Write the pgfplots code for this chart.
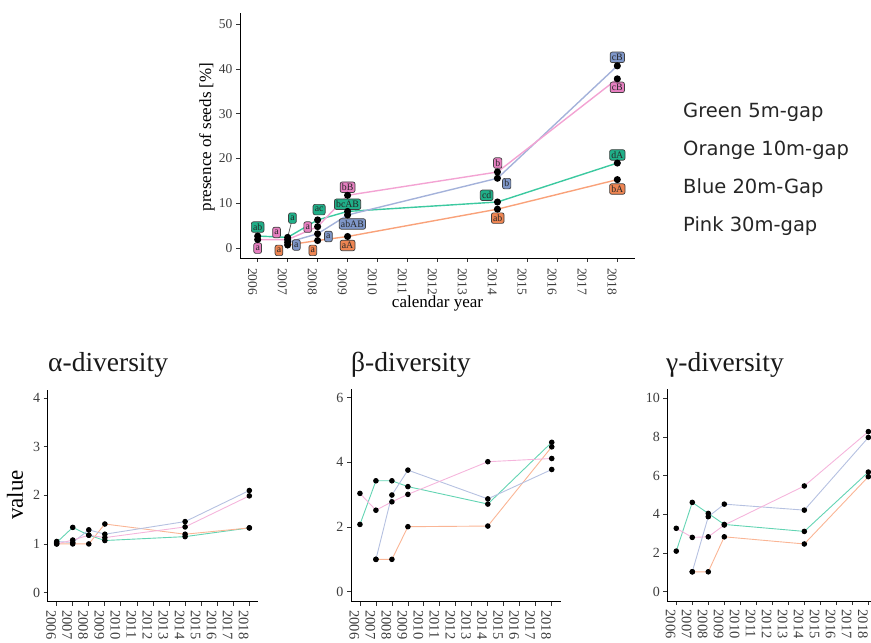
\documentclass[border=0pt]{standalone}
\usepackage{pgfplots}
\pgfplotsset{compat=1.18}
\usepackage{fontspec}
\setmainfont{Liberation Serif}
\newfontfamily\legfont{DejaVu Sans}
\definecolor{gL}{HTML}{3CC9A0}
\definecolor{oL}{HTML}{F9A27A}
\definecolor{bL}{HTML}{A4B2DA}
\definecolor{pL}{HTML}{F3A3D3}
\definecolor{gF}{HTML}{1FAF88}
\definecolor{oF}{HTML}{EE8552}
\definecolor{bF}{HTML}{7F97C9}
\definecolor{pF}{HTML}{E67FC0}
\definecolor{tickgray}{HTML}{3D3D3D}
\tikzset{lab/.style={draw=black!75, line width=0.7pt, rounded corners=2pt, inner sep=1.7pt, font=\fontsize{9.8}{9.8}\selectfont, text=black!85, minimum height=10.5pt}}
\pgfplotsset{
  myax/.style={
    scale only axis,
    axis x line*=bottom, axis y line*=left,
    axis line style={black, line width=0.9pt, -},
    tick style={black!80, line width=0.8pt},
    major tick length=4pt, tick align=outside,
    minor tick num=0,
    /pgf/number format/assume math mode=true,
    /pgf/number format/1000 sep={},
    ticklabel style={text=tickgray},
    clip=false,
  }
}
\begin{document}
\begin{tikzpicture}[x=1pt,y=1pt]
% ---------------- top chart ----------------
\begin{axis}[myax, at={(240pt,385pt)}, anchor=south west, width=395pt, height=245pt,
  xmin=2005.41, xmax=2018.59, ymin=-2.2, ymax=52.5,
  xtick={2006,2007,2008,2009,2010,2011,2012,2013,2014,2015,2016,2017,2018},
  ytick={0,10,20,30,40,50},
  x tick label style={rotate=-90, anchor=north west, inner sep=0.5pt, xshift=2.5pt, font=\fontsize{13.5}{13.5}\selectfont},
  xticklabel shift=3pt,
  y tick label style={font=\fontsize{13.5}{13.5}\selectfont},
  mark size=2.8pt]
\addplot[gL, line width=1.4pt, mark=*, mark options={draw=black, fill=black}] coordinates {(2006,2.7)(2007,2.4)(2008,6.3)(2009,8.2)(2014,10.3)(2018,19.0)};
\addplot[oL, line width=1.4pt, mark=*, mark options={draw=black, fill=black}] coordinates {(2007,0.7)(2008,1.7)(2009,2.6)(2014,8.7)(2018,15.3)};
\addplot[bL, line width=1.4pt, mark=*, mark options={draw=black, fill=black}] coordinates {(2007,1.3)(2008,3.2)(2009,7.4)(2014,15.6)(2018,40.7)};
\addplot[pL, line width=1.4pt, mark=*, mark options={draw=black, fill=black}] coordinates {(2006,1.9)(2007,1.9)(2008,4.8)(2009,11.8)(2014,17.0)(2018,37.8)};
\draw[black!70, line width=0.7pt] (axis cs:2007,2.4) -- (axis cs:2007.16,6.7);
\node[lab, fill=gF] at (axis cs:2006,4.7) {ab};
\node[lab, fill=pF] at (axis cs:2006,0.0) {a};
\node[lab, fill=pF] at (axis cs:2006.63,3.5) {a};
\node[lab, fill=gF] at (axis cs:2007.16,6.7) {a};
\node[lab, fill=oF] at (axis cs:2006.71,-0.5) {a};
\node[lab, fill=bF] at (axis cs:2007.29,0.7) {a};
\node[lab, fill=gF] at (axis cs:2008.05,8.6) {ac};
\node[lab, fill=pF] at (axis cs:2007.67,4.7) {a};
\node[lab, fill=bF] at (axis cs:2008.36,2.6) {a};
\node[lab, fill=oF] at (axis cs:2007.84,-0.5) {a};
\node[lab, fill=pF] at (axis cs:2009,13.6) {bB};
\node[lab, fill=gF] at (axis cs:2009,9.8) {bcAB};
\node[lab, fill=bF] at (axis cs:2009.16,5.4) {abAB};
\node[lab, fill=oF] at (axis cs:2009,0.6) {aA};
\node[lab, fill=pF] at (axis cs:2014.01,19.0) {b};
\node[lab, fill=bF] at (axis cs:2014.31,14.4) {b};
\node[lab, fill=gF] at (axis cs:2013.64,11.8) {cd};
\node[lab, fill=oF] at (axis cs:2014.01,6.7) {ab};
\node[lab, fill=bF] at (axis cs:2018,42.6) {cB};
\node[lab, fill=pF] at (axis cs:2018,35.9) {cB};
\node[lab, fill=gF] at (axis cs:2018,20.8) {dA};
\node[lab, fill=oF] at (axis cs:2018,13.2) {bA};
\end{axis}
\node[font=\fontsize{17}{17}\selectfont] at (437.5,340) {calendar year};
\node[font=\fontsize{17}{17}\selectfont, rotate=90] at (207,506) {presence of seeds [\%]};
% legend text
\begin{scope}[every node/.style={anchor=base west, font=\legfont\fontsize{19.5}{19.5}\selectfont, text=black!85, inner sep=0pt}]
\node at (683,525) {Green 5m-gap};
\node at (683,487) {Orange 10m-gap};
\node at (683,449) {Blue 20m-Gap};
\node at (683,411) {Pink 30m-gap};
\end{scope}
% ---------------- bottom charts ----------------
\pgfplotsset{botax/.style={myax,
  xmin=2005.44, xmax=2018.56,
  xtick={2006,2007,2008,2009,2010,2011,2012,2013,2014,2015,2016,2017,2018},
  x tick label style={rotate=-90, anchor=north west, inner sep=0.5pt, font=\fontsize{14.5}{14.5}\selectfont},
  xticklabel shift=4pt,
  y tick label style={font=\fontsize{14}{14}\selectfont},
  mark size=2.3pt,
  every axis plot/.append style={line width=0.9pt, mark=*, mark options={draw=black, fill=black}}}}
% alpha
\begin{axis}[botax, at={(47.7pt,41.3pt)}, anchor=south west, width=210.6pt, height=211.7pt,
  ymin=-0.19, ymax=4.17, ytick={0,1,2,3,4}]
\addplot[gL!80] coordinates {(2006,1.03)(2007,1.34)(2008,1.18)(2009,1.07)(2014,1.15)(2018,1.33)};
\addplot[oL!80] coordinates {(2006,1.0)(2007,1.0)(2008,1.0)(2009,1.41)(2014,1.2)(2018,1.33)};
\addplot[bL!80] coordinates {(2006,1.05)(2007,1.03)(2008,1.29)(2009,1.2)(2014,1.46)(2018,2.1)};
\addplot[pL!80] coordinates {(2006,1.0)(2007,1.08)(2008,1.18)(2009,1.13)(2014,1.35)(2018,1.99)};
\end{axis}
% beta
\begin{axis}[botax, at={(351pt,41.3pt)}, anchor=south west, width=209.7pt, height=212.4pt,
  ymin=-0.31, ymax=6.26, ytick={0,2,4,6}]
\addplot[gL!80] coordinates {(2006,2.08)(2007,3.43)(2008,3.43)(2009,3.25)(2014,2.71)(2018,4.62)};
\addplot[oL!80] coordinates {(2007,1.0)(2008,1.0)(2009,2.01)(2014,2.03)(2018,4.48)};
\addplot[bL!80] coordinates {(2007,1.0)(2008,2.99)(2009,3.76)(2014,2.87)(2018,3.78)};
\addplot[pL!80] coordinates {(2006,3.04)(2007,2.52)(2008,2.78)(2009,3.01)(2014,4.02)(2018,4.12)};
\end{axis}
% gamma
\begin{axis}[botax, at={(667.3pt,42pt)}, anchor=south west, width=210pt, height=211.7pt,
  ymin=-0.48, ymax=10.47, ytick={0,2,4,6,8,10}]
\addplot[gL!80] coordinates {(2006,2.1)(2007,4.62)(2008,4.05)(2009,3.48)(2014,3.12)(2018,6.19)};
\addplot[oL!80] coordinates {(2007,1.03)(2008,1.03)(2009,2.84)(2014,2.47)(2018,5.95)};
\addplot[bL!80] coordinates {(2007,1.03)(2008,3.88)(2009,4.53)(2014,4.22)(2018,7.98)};
\addplot[pL!80] coordinates {(2006,3.28)(2007,2.81)(2008,2.84)(2009,3.45)(2014,5.47)(2018,8.28)};
\end{axis}
\begin{scope}[every node/.style={anchor=base west, font=\fontsize{27.5}{27.5}\selectfont, inner sep=0pt, text=black!90}]
\node at (48,271) {α-diversity};
\node at (351,271) {β-diversity};
\node at (666,271) {γ-diversity};
\end{scope}
\node[font=\fontsize{23}{23}\selectfont, rotate=90] at (15,148) {value};
\pgfresetboundingbox
\useasboundingbox (0,0) rectangle (871,643);
\end{tikzpicture}
\end{document}
